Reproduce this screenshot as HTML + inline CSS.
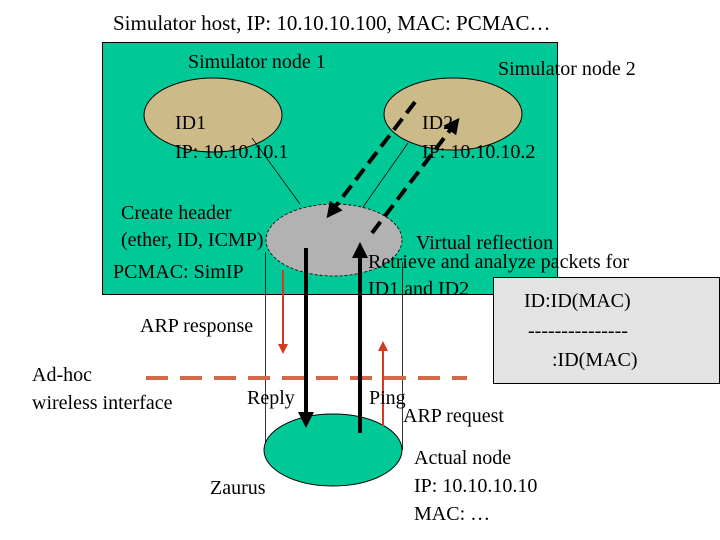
<!DOCTYPE html>
<html><head><meta charset="utf-8"><style>
html,body{margin:0;padding:0;background:#fff;width:720px;height:540px;overflow:hidden}
svg text{font-family:"Liberation Serif",serif;font-size:20px;fill:#000}
</style></head><body>
<svg width="720" height="540" viewBox="0 0 720 540" xmlns="http://www.w3.org/2000/svg">
<defs>
<marker id="ab" markerWidth="4" markerHeight="4" refX="3" refY="2" orient="auto" markerUnits="strokeWidth"><path d="M0,0 L4,2 L0,4 z" fill="#000"/></marker>
<marker id="ar" markerWidth="5" markerHeight="5" refX="4" refY="2.5" orient="auto" markerUnits="strokeWidth"><path d="M0,0 L5,2.5 L0,5 z" fill="#d83820"/></marker>
</defs>
<text x="113" y="30" style="font-size:21px">Simulator host, IP: 10.10.10.100, MAC: PCMAC…</text>
<rect x="102.5" y="42.5" width="455" height="252" fill="#00c896" stroke="#000" stroke-width="1"/>
<text x="188" y="68">Simulator node 1</text>
<text x="498" y="75">Simulator node 2</text>
<ellipse cx="213" cy="115" rx="69" ry="37" fill="#ccbb88" stroke="#000"/>
<ellipse cx="453" cy="114" rx="69" ry="36" fill="#ccbb88" stroke="#000"/>
<text x="175" y="129">ID1</text>
<text x="175" y="158">IP: 10.10.10.1</text>
<text x="422" y="129">ID2</text>
<text x="422" y="158">IP: 10.10.10.2</text>
<line x1="252" y1="138" x2="300" y2="204" stroke="#000" stroke-width="0.8"/>
<line x1="408" y1="143" x2="361" y2="210" stroke="#000" stroke-width="0.8"/>
<ellipse cx="334" cy="240" rx="68" ry="36" fill="#b2b2b2" stroke="#000" stroke-dasharray="3,2" stroke-width="0.8"/>
<text x="121" y="219">Create header</text>
<text x="121" y="246">(ether, ID, ICMP)</text>
<text x="113" y="278">PCMAC: SimIP</text>
<text x="416" y="249">Virtual reflection</text>
<text x="368" y="268">Retrieve and analyze packets for</text>
<text x="368" y="295">ID1 and ID2</text>
<line x1="265.5" y1="252" x2="265.5" y2="445" stroke="#000" stroke-width="0.8"/>
<line x1="402.5" y1="262" x2="402.5" y2="450" stroke="#000" stroke-width="0.8"/>
<ellipse cx="333" cy="450" rx="69" ry="36" fill="#00c896" stroke="#000"/>
<rect x="493.5" y="277.5" width="226" height="106" fill="#e3e3e3" stroke="#000"/>
<text x="524" y="307">ID:ID(MAC)</text>
<text x="528" y="337">---------------</text>
<text x="552" y="366">:ID(MAC)</text>
<line x1="146" y1="378" x2="467" y2="378" stroke="#d06a48" stroke-width="4" stroke-dasharray="22,12"/>
<line x1="306" y1="248" x2="306" y2="424" stroke="#000" stroke-width="4" marker-end="url(#ab)"/>
<line x1="360" y1="433" x2="360" y2="246" stroke="#000" stroke-width="4" marker-end="url(#ab)"/>
<line x1="415" y1="102" x2="329" y2="215" stroke="#000" stroke-width="4" stroke-dasharray="14,7" marker-end="url(#ab)"/>
<line x1="372" y1="233" x2="457" y2="121" stroke="#000" stroke-width="4" stroke-dasharray="14,7" marker-end="url(#ab)"/>
<line x1="283" y1="270" x2="283" y2="352" stroke="#d83820" stroke-width="2" marker-end="url(#ar)"/>
<line x1="383" y1="426" x2="383" y2="343" stroke="#d83820" stroke-width="2" marker-end="url(#ar)"/>
<text x="140" y="332">ARP response</text>
<text x="32" y="381">Ad-hoc</text>
<text x="32" y="409">wireless interface</text>
<text x="247" y="404">Reply</text>
<text x="369" y="404">Ping</text>
<text x="403" y="422">ARP request</text>
<text x="210" y="494">Zaurus</text>
<text x="414" y="464">Actual node</text>
<text x="414" y="492">IP: 10.10.10.10</text>
<text x="414" y="520">MAC: …</text>
</svg>
</body></html>
